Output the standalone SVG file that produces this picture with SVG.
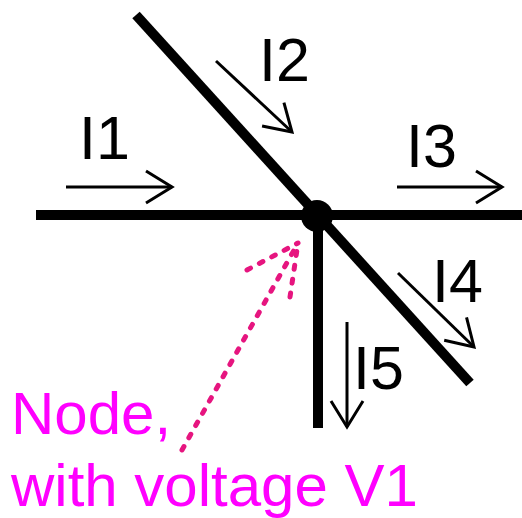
<svg xmlns="http://www.w3.org/2000/svg" width="522" height="518" viewBox="0 0 522 518">
<style>
.wire{stroke:#000;stroke-width:10;fill:none}
.cur{stroke:#000;stroke-width:3;fill:none;marker-end:url(#ah)}
.lbl{font-family:"Liberation Sans",Arial,sans-serif;font-size:61px;fill:#000}
.note{font-family:"Liberation Sans",Arial,sans-serif;font-size:60px;fill:#ff00ff}
.dot{stroke:#e6157f;stroke-width:5;stroke-linecap:round;stroke-dasharray:4 10;fill:none}
</style>
<defs>
<marker id="ah" markerUnits="userSpaceOnUse" markerWidth="40" markerHeight="40" viewBox="-30 -20 34 40" refX="0" refY="0" orient="auto">
<path d="M-26,-16 L0,0 L-26,16" stroke="#000" stroke-width="3" fill="none"/>
</marker>
</defs>
<g id="connectors">
<line class="wire" x1="36" y1="215" x2="522" y2="215"/>
<line class="wire" x1="136" y1="15" x2="470" y2="383"/>
<line class="wire" x1="318" y1="215" x2="318" y2="428"/>
</g>
<g id="node">
<circle cx="317" cy="216" r="16" fill="#000"/>
</g>
<g id="I1">
<line class="cur" x1="66" y1="187" x2="172" y2="187"/>
<text class="lbl" x="79" y="159">I1</text>
</g>
<g id="I2">
<line class="cur" x1="216" y1="61" x2="292" y2="132"/>
<text class="lbl" x="259" y="81">I2</text>
</g>
<g id="I3">
<line class="cur" x1="397" y1="187" x2="502" y2="187"/>
<text class="lbl" x="406" y="167">I3</text>
</g>
<g id="I4">
<line class="cur" x1="398" y1="273" x2="474" y2="347"/>
<text class="lbl" x="432" y="302">I4</text>
</g>
<g id="I5">
<line class="cur" x1="347" y1="322" x2="347" y2="427"/>
<text class="lbl" x="353" y="389">I5</text>
</g>
<g id="pointer">
<line class="dot" x1="182" y1="450" x2="298" y2="243"/>
<line class="dot" x1="247" y1="270" x2="298" y2="243"/>
<line class="dot" x1="290" y1="297" x2="298" y2="243"/>
</g>
<g id="label">
<text class="note" x="11" y="434">Node,</text>
<text class="note" x="11" y="506">with voltage V1</text>
</g>
</svg>
